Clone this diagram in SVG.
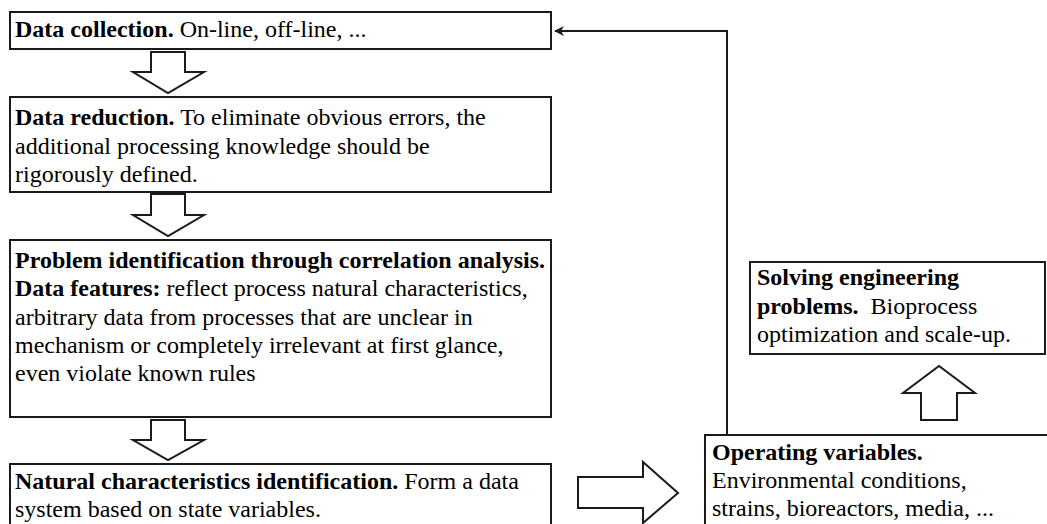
<svg xmlns="http://www.w3.org/2000/svg" width="1047" height="524" viewBox="0 0 1047 524">
<style>
.box{fill:#fff;stroke:#1a1a1a;stroke-width:2}
.blk{fill:#fff;stroke:#1a1a1a;stroke-width:2;stroke-linejoin:miter}
text{font-family:"Liberation Serif","Times New Roman",serif;font-size:24px;fill:#000}
.b{font-weight:bold}
.conn{fill:none;stroke:#1a1a1a;stroke-width:2}
</style>
<defs>
<marker id="ah" viewBox="0 0 10 10" refX="9" refY="5" markerWidth="5" markerHeight="5" orient="auto">
<path d="M0,0 L10,5 L0,10 L3,5 Z" fill="#1a1a1a"/>
</marker>
</defs>
<rect width="1047" height="524" fill="#fff"/>
<g id="connectors">
<polyline class="conn" points="727,435 727,31 555,31" marker-end="url(#ah)"/>
<path id="arrow1" class="blk" d="M151,52 L185,52 L185,72 L204,72 L168,93 L133,72 L151,72 Z"/>
<path id="arrow2" class="blk" d="M151,194 L185,194 L185,215 L204,215 L168,236 L133,215 L151,215 Z"/>
<path id="arrow3" class="blk" d="M151,420 L185,420 L185,440 L204,440 L168,460 L133,440 L151,440 Z"/>
<path id="arrow4" class="blk" d="M578,477 L643,477 L643,462 L678,493 L643,523 L643,508 L578,508 Z"/>
<path id="arrow5" class="blk" d="M921,420 L957,420 L957,393 L975,393 L939,366 L903,393 L921,393 Z"/>
</g>
<g id="node-collection">
<rect class="box" x="10" y="12" width="541" height="37"/>
<text x="15" y="37"><tspan class="b">Data collection.</tspan> On-line, off-line, ...</text>
</g>
<g id="node-reduction">
<rect class="box" x="10" y="97" width="541" height="95"/>
<text x="15" y="125"><tspan class="b">Data reduction.</tspan> To eliminate obvious errors, the</text>
<text x="15" y="154">additional processing knowledge should be</text>
<text x="15" y="182">rigorously defined.</text>
</g>
<g id="node-problem">
<rect class="box" x="10" y="240" width="541" height="177"/>
<text x="15" y="268" class="b">Problem identification through correlation analysis.</text>
<text x="15" y="296"><tspan class="b">Data features:</tspan> reflect process natural characteristics,</text>
<text x="15" y="325">arbitrary data from processes that are unclear in</text>
<text x="15" y="353">mechanism or completely irrelevant at first glance,</text>
<text x="15" y="381">even violate known rules</text>
</g>
<g id="node-natural">
<rect class="box" x="10" y="464" width="541" height="80"/>
<text x="15" y="489"><tspan class="b">Natural characteristics identification.</tspan> Form a data</text>
<text x="15" y="517">system based on state variables.</text>
</g>
<g id="node-operating">
<rect class="box" x="705" y="435" width="360" height="120"/>
<text x="712" y="460" class="b">Operating variables.</text>
<text x="712" y="488">Environmental conditions,</text>
<text x="712" y="516">strains, bioreactors, media, ...</text>
</g>
<g id="node-solving">
<rect class="box" x="750" y="262" width="295" height="92"/>
<text x="757" y="285" class="b">Solving engineering</text>
<text x="757" y="314"><tspan class="b">problems.</tspan><tspan dx="6"> Bioprocess</tspan></text>
<text x="757" y="342">optimization and scale-up.</text>
</g>
</svg>
